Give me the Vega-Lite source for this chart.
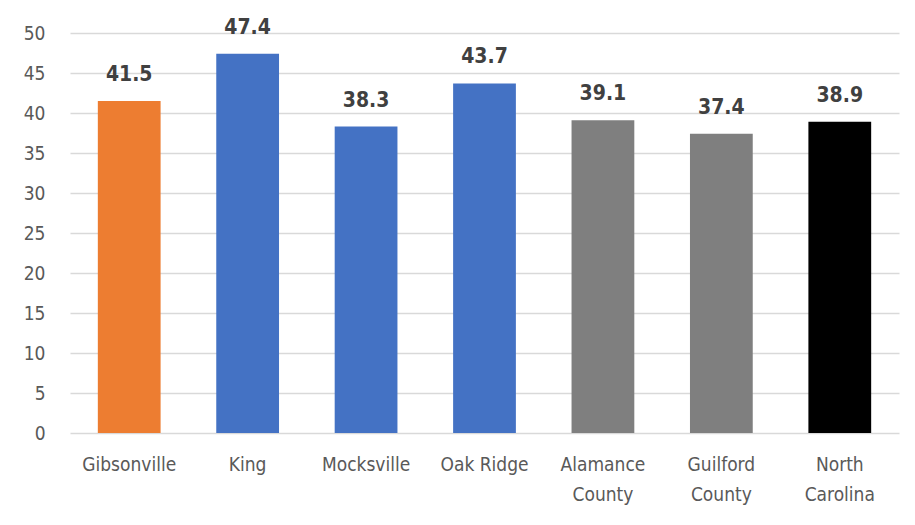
{
  "$schema": "https://vega.github.io/schema/vega-lite/v6.json",
  "width": 829,
  "height": 400,
  "autosize": {"type": "none"},
  "padding": {"left": 70, "top": 33, "right": 16, "bottom": 92},
  "background": "white",
  "config": {
    "view": {"stroke": null},
    "font": "DejaVu Sans Condensed"
  },
  "data": {
    "values": [
      {"place": "Gibsonville", "value": 41.5, "color": "#ED7D31"},
      {"place": "King", "value": 47.4, "color": "#4472C4"},
      {"place": "Mocksville", "value": 38.3, "color": "#4472C4"},
      {"place": "Oak Ridge", "value": 43.7, "color": "#4472C4"},
      {"place": "Alamance County", "value": 39.1, "color": "#7F7F7F"},
      {"place": "Guilford County", "value": 37.4, "color": "#7F7F7F"},
      {"place": "North Carolina", "value": 38.9, "color": "#000000"}
    ]
  },
  "encoding": {
    "x": {
      "field": "place",
      "type": "nominal",
      "sort": null,
      "scale": {"paddingInner": 0.47, "paddingOuter": 0.235},
      "axis": {
        "title": null,
        "labelAngle": 0,
        "domain": false,
        "ticks": false,
        "labelFontSize": 19,
        "labelColor": "#595959",
        "labelPadding": 22,
        "labelLineHeight": 30,
        "labelExpr": "indexof(datum.label, 'County') >= 0 || datum.label == 'North Carolina' ? split(datum.label, ' ') : datum.label"
      }
    },
    "y": {
      "field": "value",
      "type": "quantitative",
      "scale": {"domain": [0, 50]},
      "axis": {
        "title": null,
        "values": [0, 5, 10, 15, 20, 25, 30, 35, 40, 45, 50],
        "domain": false,
        "ticks": false,
        "labelFontSize": 19,
        "labelColor": "#595959",
        "labelPadding": 25,
        "gridColor": "#D9D9D9",
        "gridWidth": 1.5
      }
    }
  },
  "layer": [
    {
      "mark": {"type": "bar"},
      "encoding": {
        "color": {"field": "color", "type": "nominal", "scale": null, "legend": null}
      }
    },
    {
      "mark": {"type": "text", "baseline": "alphabetic", "dy": -20, "fontSize": 21, "fontWeight": "bold", "color": "#404040"},
      "encoding": {
        "text": {"field": "value", "type": "quantitative", "format": ".1f"}
      }
    }
  ]
}
